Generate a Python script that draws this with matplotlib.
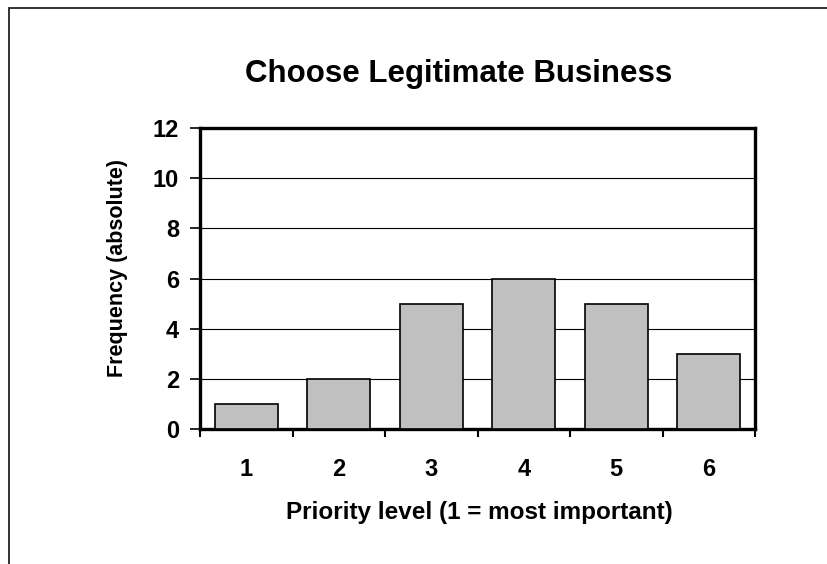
import matplotlib.pyplot as plt
from matplotlib.patches import Rectangle

priority = ["1", "2", "3", "4", "5", "6"]
frequency = [1, 2, 5, 6, 5, 3]
y_ticks = [0, 2, 4, 6, 8, 10, 12]

plt.rcParams['font.family'] = ['Liberation Sans', 'DejaVu Sans']
plt.rcParams['font.weight'] = 'bold'

W, H = 827, 564
fig = plt.figure(figsize=(W / 100, H / 100), dpi=100)

# chart frame (only left and top edges fall inside the image)
fig.patches.append(Rectangle((8.5 / W, -0.1), 1.2, 1 - 7.5 / H + 0.1,
                             transform=fig.transFigure, fill=False,
                             edgecolor="#222222", linewidth=1.3))

ax = fig.add_axes([200 / W, 1 - 429 / H, 555 / W, 301 / H])

x = list(range(len(priority)))
ax.bar(x, frequency, width=0.68, color="#c0c0c0", edgecolor="black",
       linewidth=1.2, zorder=3)

ax.set_xlim(-0.5, len(priority) - 0.5)
ax.set_ylim(0, 12)
ax.set_yticks(y_ticks)
ax.set_yticklabels([str(v) for v in y_ticks], fontsize=17, fontweight="bold")
ax.set_xticks(x)
ax.set_xticklabels(priority, fontsize=17, fontweight="bold")
ax.tick_params(axis="x", length=0, pad=21)
ax.set_xticks([i - 0.5 for i in range(len(priority) + 1)], minor=True)
ax.tick_params(axis="x", which="minor", length=6, width=1.5, direction="out")
ax.tick_params(axis="y", length=7, width=1.2, direction="out", pad=8)

ax.yaxis.grid(True, color="black", linewidth=0.8, zorder=0)
ax.set_axisbelow(True)
for s in ax.spines.values():
    s.set_linewidth(2.4)

fig.text(459 / W, 1 - 82 / H, "Choose Legitimate Business", fontsize=22.5,
         fontweight="bold", ha="center", va="baseline")
fig.text(479 / W, 1 - 519 / H, "Priority level (1 = most important)", fontsize=17.5,
         fontweight="bold", ha="center", va="baseline")
fig.text(118 / W, 1 - 268 / H, "Frequency (absolute)", fontsize=15.5,
         fontweight="bold", ha="center", va="center", rotation=90)

fig.savefig("out.png", dpi=100)
